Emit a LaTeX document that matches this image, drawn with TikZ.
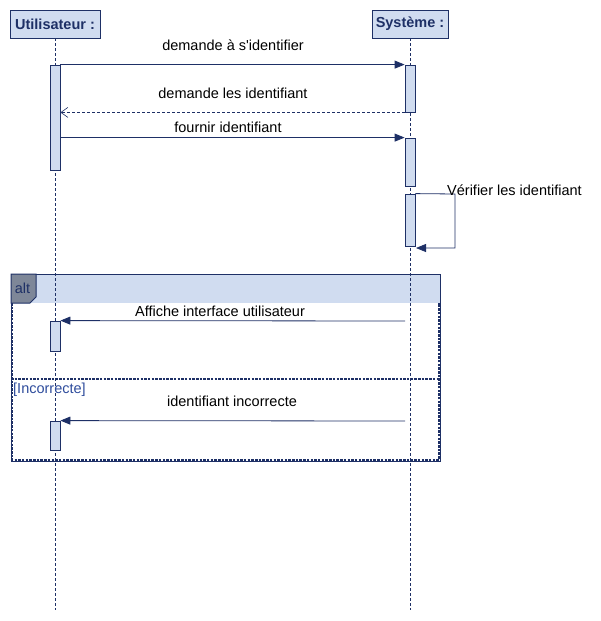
\documentclass[tikz,border=0pt]{standalone}
\usepackage{fontspec}
\setmainfont{Liberation Sans}
\usetikzlibrary{arrows.meta}
\definecolor{navy}{HTML}{1E3066}
\definecolor{lb}{HTML}{D0DCF0}
\definecolor{tabg}{HTML}{7E8798}
\definecolor{guard}{HTML}{2E4C9C}
\begin{document}
\begin{tikzpicture}[x=1pt,y=-1pt,
 head/.style={draw=navy, fill=lb, line width=0.8pt, font=\fontsize{14.5}{16}\selectfont\bfseries, text=navy, inner sep=0pt, minimum height=28pt},
 act/.style={draw=navy, fill=lb, line width=0.8pt, minimum width=10pt, inner sep=0pt},
 life/.style={draw=navy, dash pattern=on 3pt off 2pt, line width=0.6pt},
 msg/.style={draw=navy, line width=0.8pt, -{Triangle[length=10pt,width=8pt]}},
 ret/.style={draw=navy, line width=0.6pt, dash pattern=on 3pt off 2pt, -{Straight Barb[length=7pt,width=10pt]}},
 lbl/.style={font=\fontsize{14.5}{16}\selectfont, text=black, inner sep=0pt},
 framebd/.style={draw=navy, line width=1pt},
 framedash/.style={draw=navy, line width=1.4pt, dash pattern=on 2.5pt off 1.2pt}]
\useasboundingbox (0,0) rectangle (601,621);
% alt header band
\fill[lb] (11,274) rectangle (440,303);
% heads
\node[head, minimum width=90pt] (u) at (55,24) {Utilisateur :};
\node[head, minimum width=76pt] (s) at (410,24) {Système :};
\coordinate (uend) at (55,610);
\coordinate (send) at (410,610);
\draw[life] (u.south) -- (uend);
\draw[life] (s.south) -- (send);
% alt frame
\draw[framedash] (12.2,303) -- (12.2,459.8) -- (438.8,459.8) -- (438.8,303);
\draw[framebd] (11,274) rectangle (440,461);
\draw[framedash] (11,379) -- (440,379);
\draw[framebd, fill=tabg] (11,274) -- (36,274) -- (36,297) -- (30,303) -- (11,303) -- cycle;
\node[font=\fontsize{14.5}{16}\selectfont, text=navy, inner sep=0pt] (alt) at (22.5,288.5) {alt};
\node[font=\fontsize{14.5}{16}\selectfont, text=guard, inner sep=0pt, anchor=west] (guard) at (13,390) {[Incorrecte]};
% activations
\node[act, minimum height=105pt] (a1) at (55,117.5) {};
\node[act, minimum height=47pt] (s1) at (410,88.5) {};
\node[act, minimum height=48pt] (s2) at (410,162) {};
\node[act, minimum height=52pt] (s3) at (410,220) {};
\node[act, minimum height=30pt] (a2) at (55,336) {};
\node[act, minimum height=29pt] (a3) at (55,435.5) {};
% messages
\draw[msg] (a1.north east) -- (s1.north west);
\node[lbl] (m1) at (233,45) {demande à s\textquotesingle identifier};
\draw[ret] (s1.south west) -- (a1.east |- s1.south west);
\node[lbl] (m2) at (233,93) {demande les identifiant};
\draw[msg] (a1.east |- s2.north west) -- (s2.north west);
\node[lbl] (m3) at (228,127) {fournir identifiant};
\coordinate (sc1) at (455,194);
\coordinate (sc2) at (455,248);
\coordinate (sc3) at (416,248);
\draw[msg] (s3.north east) -- (sc1) -- (sc2) -- (sc3);
\node[lbl, anchor=west] (m4) at (447,190) {Vérifier les identifiant};
\coordinate (f1) at (405,321);
\draw[msg] (f1) -- (a2.north east);
\node[lbl] (m5) at (220,311) {Affiche interface utilisateur};
\coordinate (f2) at (405,421);
\draw[msg] (f2) -- (a3.north east);
\node[lbl] (m6) at (232,401) {identifiant incorrecte};
\end{tikzpicture}
\end{document}
